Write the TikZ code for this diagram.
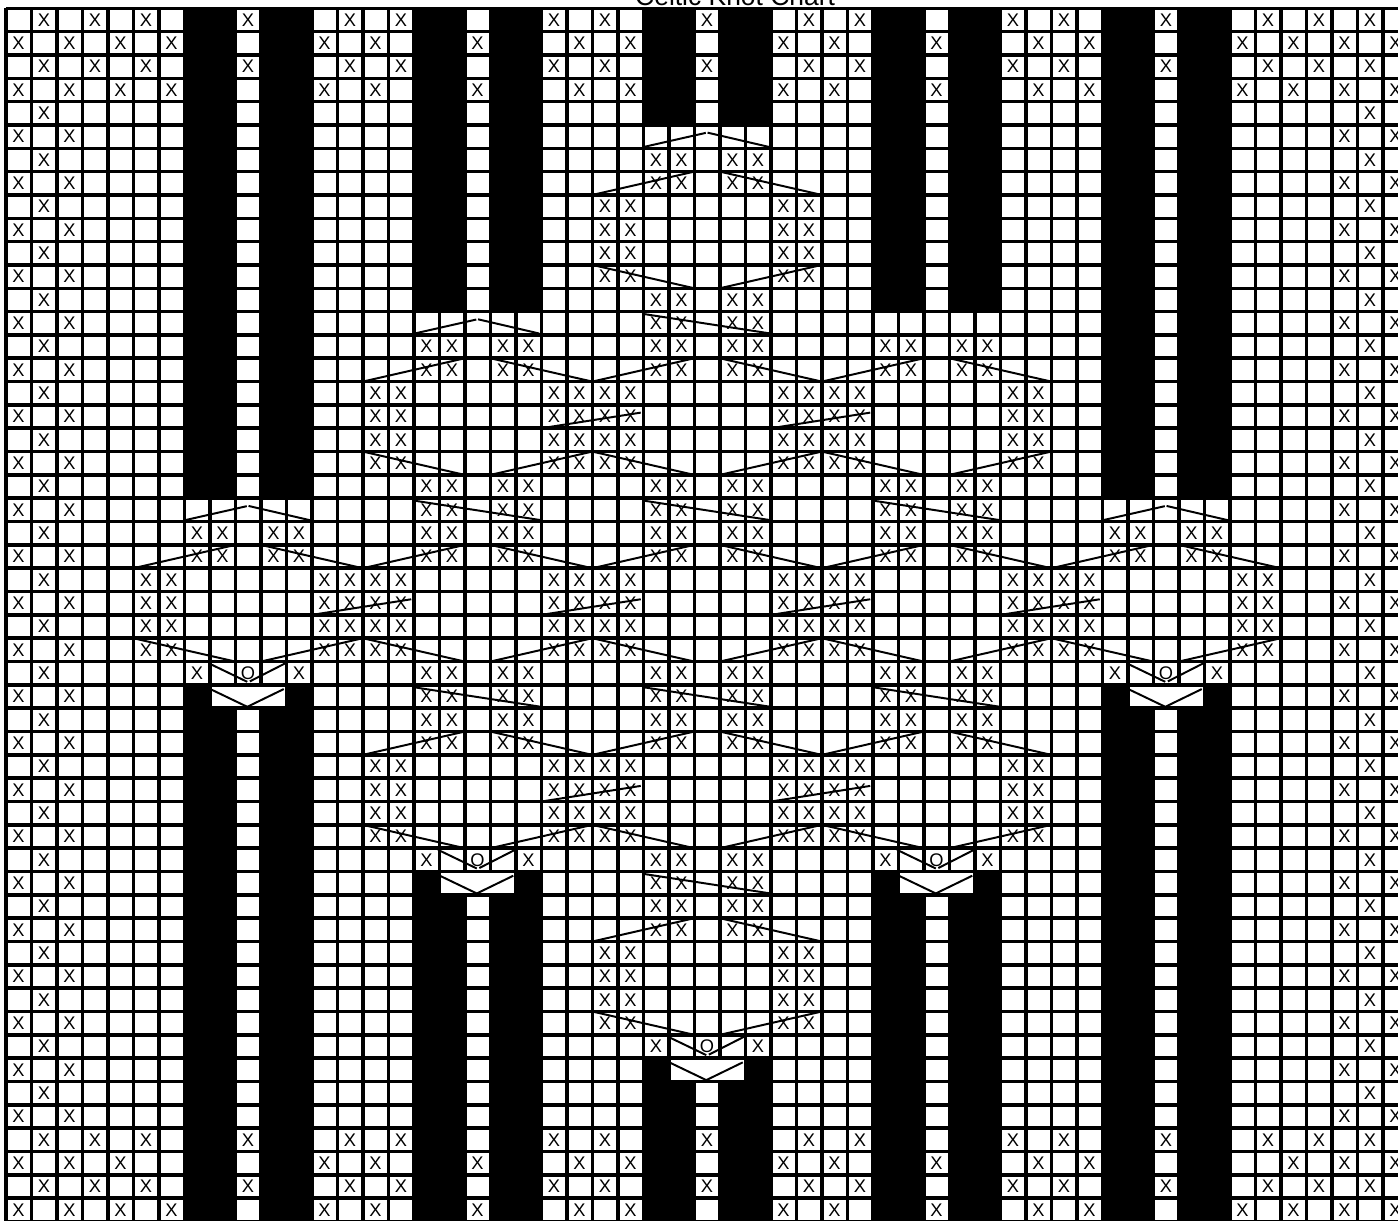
\documentclass[tikz,border=0pt]{standalone}
\usepackage{fontspec}
\setmainfont{Liberation Sans}

\begin{document}
\begin{tikzpicture}[x=0.6375cm, y=-0.58325cm,
  gridline/.style={line width=2.5pt},
  cable/.style={line width=1.4pt},
  st/.style={inner sep=0pt, font=\fontsize{13}{14}\selectfont}]
\useasboundingbox (-0.2275,-0.3558) rectangle (54.596,51.937);
\clip (-0.2275,-0.3558) rectangle (54.596,51.937);

% black cells (no stitch)
\foreach \c in {7,8,10,11,43,44,46,47}{
  \fill (\c,0) rectangle (\c+1,21);
  \fill (\c,30) rectangle (\c+1,52);
}
\foreach \c in {16,17,19,20,34,35,37,38}{
  \fill (\c,0) rectangle (\c+1,13);
  \fill (\c,38) rectangle (\c+1,52);
}
\foreach \c in {25,26,28,29}{
  \fill (\c,0) rectangle (\c+1,5);
  \fill (\c,46) rectangle (\c+1,52);
}
\foreach \c/\r in {7/29,11/29,43/29,47/29,16/37,20/37,34/37,38/37,25/45,29/45}
  \fill (\c,\r) rectangle (\c+1,\r+1);

% grid
\foreach \c in {0,...,55}
  \draw[gridline] (\c,0) -- (\c,52);
\foreach \r in {0,...,52}
  \draw[gridline] (0,\r) -- (55,\r);

% ribbing, top and bottom rows
\foreach \r in {0,2,48,50}{
  \foreach \c in {1,3,5,9,13,15,21,23,27,31,33,39,41,45,49,51,53}
    \node[st] (x\c-\r) at (\c+0.5,\r+0.5) {X};
}
\foreach \r in {1,3,51}{
  \foreach \c in {0,2,4,6,12,14,18,22,24,30,32,36,40,42,48,50,52,54}
    \node[st] (x\c-\r) at (\c+0.5,\r+0.5) {X};
}
\foreach \c in {0,2,4,12,14,18,22,24,30,32,36,40,42,50,52,54}
  \node[st] (x\c-49) at (\c+0.5,49.5) {X};

% side edges
\foreach \r in {4,6,...,46}{
  \node[st] (x1-\r) at (1.5,\r+0.5) {X};
  \node[st] (x53-\r) at (53.5,\r+0.5) {X};
}
\foreach \r in {5,7,...,47}{
  \foreach \c in {0,2,52,54}
    \node[st] (x\c-\r) at (\c+0.5,\r+0.5) {X};
}

% strands
\foreach \r in {6,7,12,13,14,15,20,21,22,23,28,29,30,31,36,37,38,39}{
  \foreach \c in {25,26,28,29}
    \node[st] (x\c-\r) at (\c+0.5,\r+0.5) {X};
}
\foreach \r in {8,9,10,11,40,41,42,43}{
  \foreach \c in {23,24,30,31}
    \node[st] (x\c-\r) at (\c+0.5,\r+0.5) {X};
}
\foreach \r in {14,15,20,21,22,23,28,29,30,31}{
  \foreach \c in {16,17,19,20,34,35,37,38}
    \node[st] (x\c-\r) at (\c+0.5,\r+0.5) {X};
}
\foreach \r in {16,17,18,19,32,33,34,35}{
  \foreach \c in {14,15,21,22,23,24,30,31,32,33,39,40}
    \node[st] (x\c-\r) at (\c+0.5,\r+0.5) {X};
}
\foreach \r in {22,23}{
  \foreach \c in {7,8,10,11,43,44,46,47}
    \node[st] (x\c-\r) at (\c+0.5,\r+0.5) {X};
}
\foreach \r in {24,25,26,27}{
  \foreach \c in {5,6,12,13,14,15,21,22,23,24,30,31,32,33,39,40,41,42,48,49}
    \node[st] (x\c-\r) at (\c+0.5,\r+0.5) {X};
}

% knot ends: X O X, then the closing V
\foreach \c/\r in {7/28,43/28,16/36,34/36,25/44}{
  \pgfmathtruncatemacro\cm{\c+2}
  \pgfmathtruncatemacro\ce{\c+4}
  \node[st] (x\c-\r) at (\c+0.5,\r+0.5) {X};
  \node[st] (o\cm-\r) at (\c+2.5,\r+0.5) {O};
  \node[st] (x\ce-\r) at (\c+4.5,\r+0.5) {X};
  \draw[cable] (\c+0.95,\r+0.07) -- (\c+2.47,\r+0.87);
  \draw[cable] (\c+2.57,\r+0.85) -- (\c+3.97,\r+0.07);
  \fill[white] (\c+1.07,\r+1.08) rectangle (\c+3.93,\r+1.92);
  \draw[cable] (\c+1.02,\r+1.18) -- (\c+2.47,\r+1.94) -- (\c+3.9,\r+1.18);
}

% knot tops
\foreach \c/\r in {25/5,16/13,7/21,43/21}{
  \draw[cable] (\c+0.03,\r+0.94) -- (\c+2.45,\r+0.34);
  \draw[cable] (\c+2.52,\r+0.33) -- (\c+4.92,\r+0.94);
}

% cables: right cross
\foreach \c/\r in {23/7,28/11,14/15,23/15,32/15,19/19,28/19,37/19,
                   5/23,14/23,23/23,32/23,41/23,10/27,19/27,28/27,37/27,46/27,
                   14/31,23/31,32/31,19/35,28/35,37/35,23/39,28/43}
  \draw[cable] (\c,\r+1) -- (\c+4,\r);
% cables: left cross
\foreach \c/\r in {28/7,23/11,19/15,28/15,37/15,14/19,23/19,32/19,
                   10/23,19/23,28/23,37/23,46/23,5/27,14/27,23/27,32/27,41/27,
                   19/31,28/31,37/31,14/35,23/35,32/35,28/39,23/43}
  \draw[cable] (\c,\r) -- (\c+4,\r+1);
% cables: four stitch blocks
\foreach \c/\r in {21/17,30/17,12/25,21/25,30/25,39/25,21/33,30/33}
  \draw[cable] (\c,\r+1) -- (\c+3.9,\r+0.33);
% cables: five stitch crossings
\foreach \c/\r in {25/13,16/21,25/21,34/21,16/29,25/29,34/29,25/37}
  \draw[cable] (\c,\r+0.1) -- (\c+5.05,\r+0.95);

\node[font=\fontsize{18.8}{20}\selectfont, anchor=base] (title) at (28.6,-0.12) {Celtic Knot Chart};
\end{tikzpicture}
\end{document}
